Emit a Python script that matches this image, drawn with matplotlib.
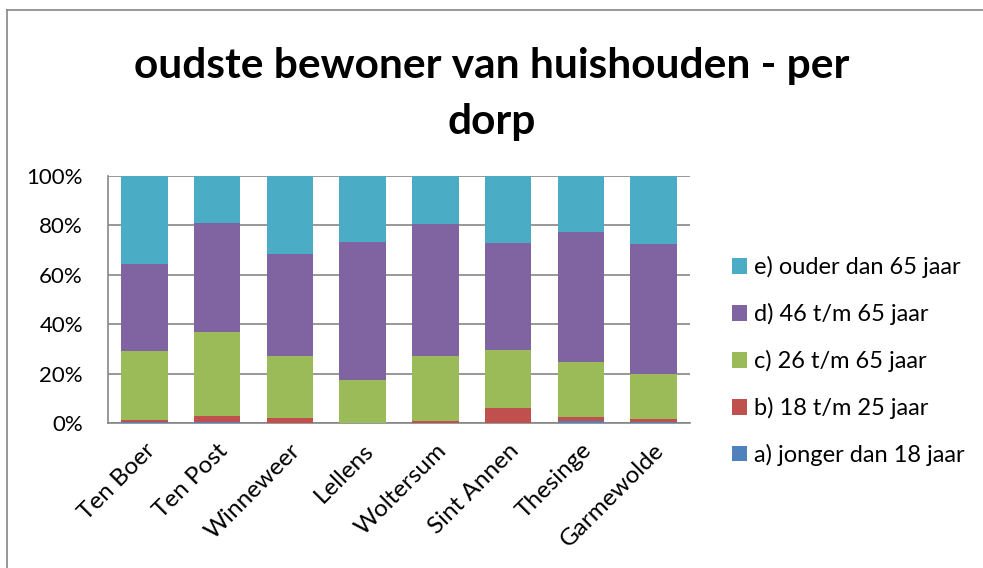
import matplotlib
matplotlib.use("Agg")
import matplotlib.pyplot as plt
from matplotlib.lines import Line2D
import numpy as np

plt.rcParams['font.family'] = ['Lato', 'DejaVu Sans']

dorpen = ["Ten Boer", "Ten Post", "Winneweer", "Lellens", "Woltersum",
          "Sint Annen", "Thesinge", "Garmewolde"]

# share of households per age group of the oldest resident (percent)
jonger_18 = [0.4, 0.3, 0.2, 0.0, 0.2, 0.0, 1.0, 0.3]
j18_25 = [0.8, 2.5, 1.7, 0.0, 0.7, 5.9, 1.3, 1.4]
j26_65 = [28.1, 34.2, 25.2, 17.4, 26.4, 23.7, 22.5, 18.1]
j46_65 = [35.1, 43.8, 41.3, 55.8, 53.1, 43.1, 52.5, 52.5]
ouder_65 = [35.6, 19.2, 31.6, 26.8, 19.6, 27.3, 22.7, 27.7]

series = [
    ("a) jonger dan 18 jaar", jonger_18, "#4F81BD"),
    ("b) 18 t/m 25 jaar", j18_25, "#C0504D"),
    ("c) 26 t/m 65 jaar", j26_65, "#9BBB59"),
    ("d) 46 t/m 65 jaar", j46_65, "#8064A2"),
    ("e) ouder dan 65 jaar", ouder_65, "#4BACC6"),
]

W, H = 983, 568
fig = plt.figure(figsize=(W / 100, H / 100), dpi=100)
ax = fig.add_axes([108 / W, 1 - 423 / H, 582 / W, 247 / H])

x = np.arange(len(dorpen))
totals = np.sum([s[1] for s in series], axis=0)
bottom = np.zeros(len(dorpen))
handles = []
for label, vals, color in series:
    frac = np.array(vals) / totals * 100
    h = ax.bar(x, frac, width=0.64, bottom=bottom, color=color, label=label,
               zorder=3, linewidth=0)
    handles.append(h)
    bottom += frac

ax.set_xlim(-0.5, len(dorpen) - 0.5)
ax.set_ylim(0, 100)
ax.set_yticks(np.arange(0, 101, 20))
ax.set_yticklabels([f"{v}%" for v in range(0, 101, 20)], fontsize=16)
ax.yaxis.grid(True, color="#868686", linewidth=1.2, zorder=0)
ax.set_xticks(x)
ax.set_xticklabels(dorpen, rotation=45, ha="right", va="top",
                   rotation_mode="anchor", fontsize=17.5)
ax.tick_params(axis="x", length=0, pad=12)
ax.tick_params(axis="y", length=0, pad=18)
for side in ("top", "right"):
    ax.spines[side].set_visible(False)
for side in ("left", "bottom"):
    ax.spines[side].set_color("#868686")
    ax.spines[side].set_linewidth(1.2)

fig.text(0.5, 1 - 66 / H, "oudste bewoner van huishouden - per", ha="center",
         va="center", fontsize=30.5, fontweight="bold")
fig.text(0.5, 1 - 122 / H, "dorp", ha="center", va="center", fontsize=30.5,
         fontweight="bold")

fig.legend(handles[::-1], [s[0] for s in series][::-1],
           loc="center left", bbox_to_anchor=(0.723, 1 - 361 / H),
           frameon=False, fontsize=17, labelspacing=1.05,
           handlelength=0.65, handleheight=0.65, handletextpad=0.3)

# chart area outline (top and left edges)
fig.add_artist(Line2D([7 / W, 1], [1 - 9.5 / H, 1 - 9.5 / H],
                      transform=fig.transFigure, color="#868686", lw=1.2))
fig.add_artist(Line2D([7 / W, 7 / W], [0, 1 - 9.5 / H],
                      transform=fig.transFigure, color="#868686", lw=1.2))

fig.savefig("out.png", dpi=100)
